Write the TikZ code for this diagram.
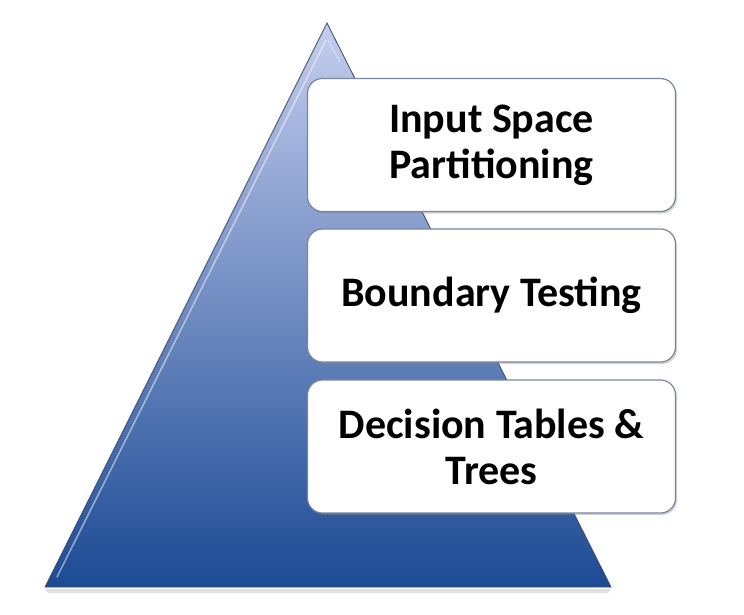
\documentclass[tikz,border=0pt]{standalone}
\usepackage{fontspec}
\setmainfont{Carlito}
\usetikzlibrary{shadows,calc}
\definecolor{triTop}{RGB}{196,205,238}
\definecolor{triMid}{RGB}{112,132,188}
\definecolor{triBot}{RGB}{28,74,148}
\definecolor{boxLine}{RGB}{120,134,160}
\tikzset{
  layerbox/.style={draw=boxLine, line width=1.2pt, fill=white, rounded corners=15pt,
    minimum width=368pt, minimum height=133pt, align=center,
    font=\fontsize{42}{46}\selectfont\bfseries, inner sep=0pt,
    drop shadow={opacity=0.35, shadow xshift=1.5pt, shadow yshift=-2pt}},
}
\begin{document}
\begin{tikzpicture}[x=1pt,y=-1pt]
\useasboundingbox (0,0) rectangle (744,614);
% reflection / shadow below base
\fill[black!12] (45,589) -- (611,589) -- (608,593) -- (48,593) -- cycle;
% triangle
\coordinate (apex) at (327,23);
\coordinate (bl) at (45,587);
\coordinate (br) at (611,587);
\shade[top color=triTop, middle color=triMid, bottom color=triBot] (apex) -- (br) -- (bl) -- cycle;
\draw[line width=0.8pt, black!45!triMid] (apex) -- (br) -- (bl) -- cycle;
% bevel highlight
\draw[white, opacity=0.5, line width=1.5pt, line cap=round] (326,40) -- (57,577);
\draw[white, opacity=0.35, line width=1.2pt, line cap=round] (328,40) -- (340,62);
% boxes
\node[layerbox] (b1) at (491.5,145) {Input Space\\Partitioning};
\node[layerbox] (b2) at (491.5,295.5) {Boundary Testing};
\node[layerbox] (b3) at (491.5,446.5) {Decision Tables \&\\Trees};
\end{tikzpicture}
\end{document}
